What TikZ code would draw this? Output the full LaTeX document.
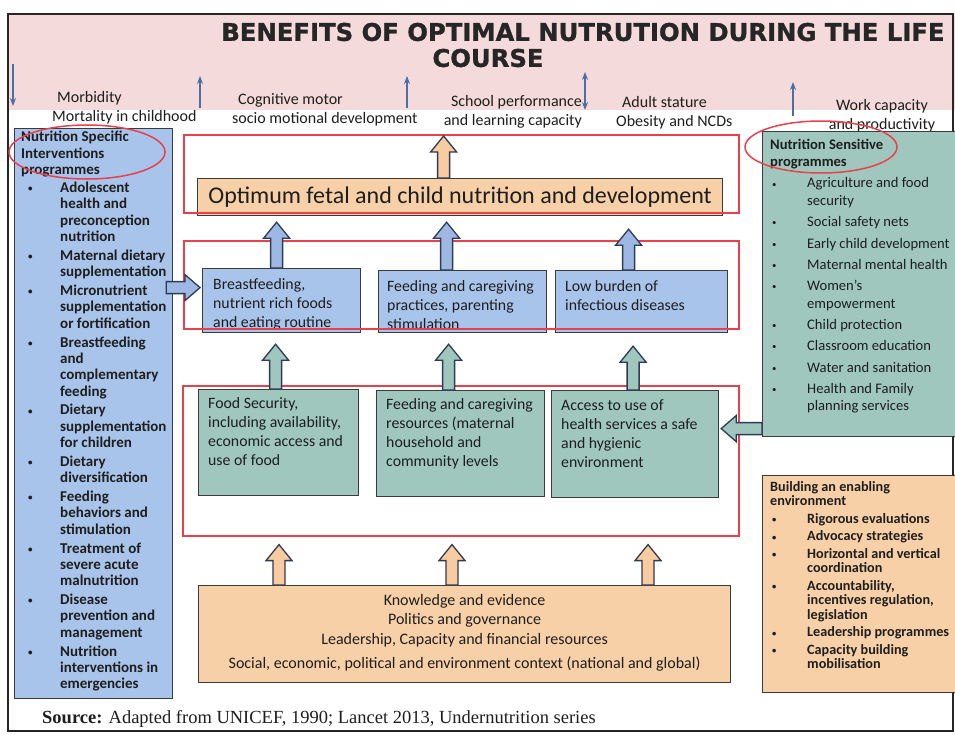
\documentclass[tikz,border=0pt]{standalone}
\usepackage{fontspec}
\usepackage{graphicx}
\setmainfont{Carlito}
\newfontfamily\titlefont{DejaVu Sans Bold}[FakeBold=1.2]
\newfontfamily\sourcefont{Liberation Serif}
\usetikzlibrary{arrows.meta,calc}

\definecolor{bandpink}{HTML}{F4DADA}
\definecolor{specblue}{HTML}{A9C4EA}
\definecolor{bluefill}{HTML}{9DB8E2}
\definecolor{sensgreen}{HTML}{9FC7BE}
\definecolor{enablepeach}{HTML}{F8D0A8}
\definecolor{peachfill}{HTML}{F9CBA0}
\definecolor{framered}{HTML}{E8414C}
\definecolor{boxline}{HTML}{3B3B3B}
\definecolor{arrowline}{HTML}{2E3B55}
\definecolor{thinblue}{HTML}{4A6FA5}
\definecolor{textdark}{HTML}{1E1E1E}

\tikzset{
  panel/.style={draw=boxline, line width=1.2pt, anchor=north west, inner sep=0pt},
  txt/.style={anchor=north west, inner sep=0pt, align=left, text=textdark},
  outcome/.style={inner sep=0pt, align=center, text=textdark, font=\fontsize{16}{19.5}\selectfont},
  redframe/.style={draw=framered, line width=1.6pt, anchor=north west, inner sep=0pt},
  ring/.style={draw=framered, line width=1.5pt},
  blockedge/.style={draw=arrowline, line width=1.3pt, line join=miter},
  thinarrow/.style={draw=thinblue, line width=1.1pt, -{Stealth[length=8pt,width=6pt]}},
}

\newcommand{\panel}[6]{\node[panel,fill=#6,minimum width=#4pt,minimum height=#5pt] (#1) at (#2,#3) {};}
\newcommand{\frm}[5]{\node[redframe,minimum width=#4pt,minimum height=#5pt] (#1) at (#2,#3) {};}
\newcommand{\liftarrow}[3]{\draw[blockedge,fill=#1] let \p1=(#2), \p2=(#3) in
  (\x1-6pt,\y1) -- (\x1-6pt,\y2-16pt) -- (\x1-13pt,\y2-16pt) -- (\x1,\y2)
  -- (\x1+13pt,\y2-16pt) -- (\x1+6pt,\y2-16pt) -- (\x1+6pt,\y1) -- cycle;}
\newcommand{\sidearrow}[4]{\draw[blockedge,fill=#1] let \p1=(#2), \p2=(#3), \n1={#4} in
  (\x1,\y1+6pt) -- ({\x2-\n1},\y1+6pt) -- ({\x2-\n1},\y1+13pt) -- (\x2,\y1)
  -- ({\x2-\n1},\y1-13pt) -- ({\x2-\n1},\y1-6pt) -- (\x1,\y1-6pt) -- cycle;}
\newcommand{\smalldot}{\raisebox{0.12ex}{\scalebox{0.6}{\textbullet}}}
\newcommand{\lb}{\makebox[39pt][l]{\hspace*{7pt}\smalldot}}
\newcommand{\li}{\hspace*{39pt}}
\newcommand{\rb}{\makebox[37pt][l]{\hspace*{2pt}\smalldot}}
\newcommand{\ri}{\hspace*{37pt}}
\newcommand{\midfont}{\fontsize{15.8}{19}\selectfont}

\begin{document}
\begin{tikzpicture}[x=1pt,y=-1pt]
    \useasboundingbox (0,0) rectangle (955,734);
    \fill[white] (0,0) rectangle (955,734);
    \fill[bandpink] (8,14) rectangle (955,110);
    \draw[line width=1.5pt, black!85] (8,14) rectangle (953,731);
    \node[inner sep=0pt, text=black!85, font=\titlefont\fontsize{24.3}{27}\selectfont] (title) at (583,32) {BENEFITS OF OPTIMAL NUTRUTION DURING THE LIFE};
    \node[inner sep=0pt, text=black!85, font=\titlefont\fontsize{24.3}{27}\selectfont] (titlecont) at (488,58) {COURSE};
    \foreach \n/\x/\a/\b in {a/13/64/106, b/200/108/76, c/407/108/76, d/793/116/82}{
      \coordinate (t\n) at (\x,\a); \coordinate (h\n) at (\x,\b);
      \draw[thinarrow] (t\n) -- (h\n);}
    \coordinate (tup) at (585,72); \coordinate (tdown) at (585,110);
    \draw[thinarrow, {Stealth[length=8pt,width=6pt]}-{Stealth[length=8pt,width=6pt]}] (tup) -- (tdown);
    \node[outcome, anchor=north west, align=left] (morb) at (52,91) {\hspace*{5pt}Morbidity\\Mortality in childhood};
    \node[outcome, anchor=north west, align=left] (cog) at (232,93) {\hspace*{6pt}Cognitive motor\\socio motional development};
    \node[outcome, anchor=north east, align=right] (school) at (582,95) {School performance\\and learning capacity};
    \node[outcome, anchor=north west, align=left] (stature) at (616,96) {\hspace*{6pt}Adult stature\\Obesity and NCDs};
    \node[outcome, anchor=north] (work) at (882,99) {Work capacity\\and productivity};
    % side columns
    \panel{spec}{14}{128}{158}{570}{specblue}
    \panel{sens}{762}{131}{200}{305}{sensgreen}
    \panel{enable}{762}{475}{200}{217}{enablepeach}
    \node[txt, font=\fontsize{15}{16.4}\selectfont\bfseries] (spectxt) at (21,131) {Nutrition Specific\\Interventions\\programmes\\[1.6pt]
      \lb Adolescent\\\li health and\\\li preconception\\\li nutrition\\[2.3pt]
      \lb Maternal dietary\\\li supplementation\\[2.3pt]
      \lb Micronutrient\\\li supplementation\\\li or fortification\\[2.3pt]
      \lb Breastfeeding\\\li and\\\li complementary\\\li feeding\\[2.3pt]
      \lb Dietary\\\li supplementation\\\li for children\\[2.3pt]
      \lb Dietary\\\li diversification\\[2.3pt]
      \lb Feeding\\\li behaviors and\\\li stimulation\\[2.3pt]
      \lb Treatment of\\\li severe acute\\\li malnutrition\\[2.3pt]
      \lb Disease\\\li prevention and\\\li management\\[2.3pt]
      \lb Nutrition\\\li interventions in\\\li emergencies};
    \node[txt, font=\fontsize{14.6}{17.5}\selectfont] (senstxt) at (770,139) {\textbf{Nutrition Sensitive}\\\textbf{programmes}\\[3.5pt]
      \rb Agriculture and food\\\ri security\\[3.8pt]
      \rb Social safety nets\\[3.8pt]
      \rb Early child development\\[3.8pt]
      \rb Maternal mental health\\[3.8pt]
      \rb Women’s\\\ri empowerment\\[3.8pt]
      \rb Child protection\\[3.8pt]
      \rb Classroom education\\[3.8pt]
      \rb Water and sanitation\\[3.8pt]
      \rb Health and Family\\\ri planning services};
    \node[txt, font=\fontsize{14.2}{14.3}\selectfont\bfseries] (enabletxt) at (770,481) {Building an enabling\\environment\\[3.4pt]
      \rb Rigorous evaluations\\[3.4pt]
      \rb Advocacy strategies\\[3.4pt]
      \rb Horizontal and vertical\\\ri coordination\\[3.4pt]
      \rb Accountability,\\\ri incentives regulation,\\\ri legislation\\[3.4pt]
      \rb Leadership programmes\\[3.4pt]
      \rb Capacity building\\\ri mobilisation};
    % centre
    \panel{optimum}{197}{178}{525}{37}{enablepeach}
    \node[inner sep=0pt, text=textdark, font=\fontsize{24}{27}\selectfont] (optimumtxt) at (optimum.center) {Optimum fetal and child nutrition and development};
    \panel{bf}{202}{268}{158}{64}{specblue}
    \panel{care}{378}{270}{168}{62}{specblue}
    \panel{burden}{555}{270}{172}{62}{specblue}
    \node[txt, font=\midfont] (bftxt) at (213,278) {Breastfeeding,\\nutrient rich foods\\and eating routine};
    \node[txt, font=\midfont] (caretxt) at (387,280) {Feeding and caregiving\\practices, parenting\\stimulation};
    \node[txt, font=\midfont] (burdentxt) at (565,280) {Low burden of\\infectious diseases};
    \panel{foodsec}{198}{389}{160}{106}{sensgreen}
    \panel{resources}{376}{390}{168}{106}{sensgreen}
    \panel{health}{551}{390}{167}{107}{sensgreen}
    \node[txt, font=\midfont] (foodsectxt) at (208,397) {Food Security,\\including availability,\\economic access and\\use of food};
    \node[txt, font=\midfont] (resourcestxt) at (386,398) {Feeding and caregiving\\resources (maternal\\household and\\community levels};
    \node[txt, font=\midfont] (healthtxt) at (561,399) {Access to use of\\health services a safe\\and hygienic\\environment};
    \panel{context}{198}{585}{532}{97}{enablepeach}
    \node[txt, anchor=north, align=center, font=\fontsize{16}{19.5}\selectfont] (contexttxt) at ([yshift=-9pt]context.north) {Knowledge and evidence\\Politics and governance\\Leadership, Capacity and financial resources\\[5pt]Social, economic, political and environment context (national and global)};
    % red frames and rings
    \frm{outframe}{183}{134}{555}{78}
    \frm{immframe}{183}{240}{555}{88}
    \frm{undframe}{182}{385}{556}{150}
    \draw[ring] (87,152) ellipse [x radius=78pt, y radius=27pt];
    \draw[ring] (821,147) ellipse [x radius=76pt, y radius=26pt];
    % block arrows
    \liftarrow{peachfill}{[xshift=-16.5pt]optimum.north}{[yshift=-2pt]outframe.north}
    \liftarrow{bluefill}{[xshift=-5pt]bf.north}{[yshift=-6pt]optimum.south}
    \liftarrow{bluefill}{[xshift=-16pt]care.north}{[yshift=-6pt]optimum.south}
    \liftarrow{bluefill}{[xshift=-13pt]burden.north}{[yshift=-13pt]optimum.south}
    \liftarrow{sensgreen}{[xshift=-3pt]foodsec.north}{[yshift=-11pt]bf.south}
    \liftarrow{sensgreen}{[xshift=-12pt]resources.north}{[yshift=-11pt]care.south}
    \liftarrow{sensgreen}{[xshift=-2pt]health.north}{[yshift=-13pt]burden.south}
    \liftarrow{peachfill}{[xshift=81pt]context.north west}{[yshift=-8pt]undframe.south}
    \liftarrow{peachfill}{[xshift=254pt]context.north west}{[yshift=-8pt]undframe.south}
    \liftarrow{peachfill}{[xshift=450pt]context.north west}{[yshift=-8pt]undframe.south}
    \sidearrow{bluefill}{$(spec.east |- bf.west)+(-7,-13)$}{$(bf.west)+(-2,0)$}{15pt}
    \sidearrow{sensgreen}{$(sens.west |- health.east)+(0,-15.5)$}{$(health.east)+(2,0)$}{-15pt}
    \node[anchor=base west, inner sep=0pt, text=textdark, font=\sourcefont\fontsize{18.5}{20}\selectfont] (source) at (42,723) {\textbf{Source:} Adapted from UNICEF, 1990; Lancet 2013, Undernutrition series};
\end{tikzpicture}
\end{document}
